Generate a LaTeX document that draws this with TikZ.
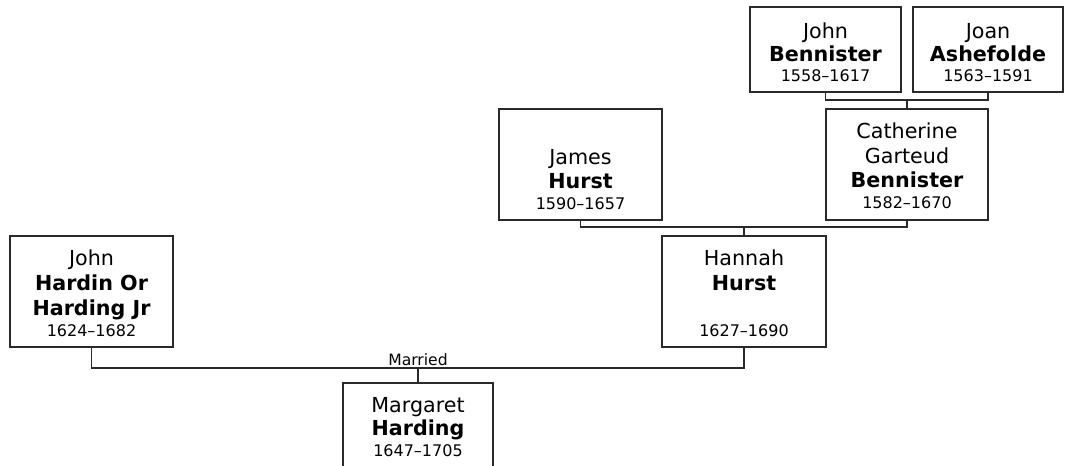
\documentclass[tikz,border=0pt]{standalone}
\usepackage{fontspec}
\setmainfont{DejaVu Sans}
\definecolor{boxline}{HTML}{2A2A2A}
\definecolor{txt}{HTML}{000000}
\tikzset{
  person/.style={draw=boxline, line width=0.9pt, fill=white, rectangle, inner sep=0pt, outer sep=0pt},
  nm/.style={anchor=base, inner sep=0pt, text=txt, font=\fontsize{15.5}{18}\selectfont},
  sn/.style={anchor=base, inner sep=0pt, text=txt, font=\fontsize{15.5}{18}\selectfont\bfseries},
  yr/.style={anchor=base, inner sep=0pt, text=txt, font=\fontsize{12}{14}\selectfont},
  lbl/.style={anchor=base, inner sep=0pt, text=txt, font=\fontsize{11.7}{14}\selectfont},
  link/.style={draw=boxline, line width=0.9pt}
}
\begin{document}
\begin{tikzpicture}[x=0.75pt, y=-0.75pt]
\useasboundingbox (0,0) rectangle (1066,466);
\clip (0,0) rectangle (1066,466);
% boxes
\node[person, minimum width=113.25pt, minimum height=63.75pt] (johnb) at (825.5,49.5) {};
\node[person, minimum width=112.5pt, minimum height=63.75pt] (joan) at (988,49.5) {};
\node[person, minimum width=122.25pt, minimum height=83.25pt] (james) at (580.5,164.5) {};
\node[person, minimum width=121.5pt, minimum height=83.25pt] (cath) at (907,164.5) {};
\node[person, minimum width=122.25pt, minimum height=83.25pt] (hardin) at (91.5,291.5) {};
\node[person, minimum width=123pt, minimum height=83.25pt] (hannah) at (744,291.5) {};
\node[person, minimum width=112.5pt, minimum height=83.25pt] (marg) at (418,438.5) {};
% texts
\node[nm] (johnb1) at (825.5,39) {John};
\node[sn] (johnb2) at (825.5,62) {Bennister};
\node[yr] (johnb3) at (825.5,82) {1558–1617};
\node[nm] (joan1) at (988,39) {Joan};
\node[sn] (joan2) at (988,62) {Ashefolde};
\node[yr] (joan3) at (988,82) {1563–1591};
\node[nm] (james1) at (580.5,165) {James};
\node[sn] (james2) at (580.5,189) {Hurst};
\node[yr] (james3) at (580.5,210) {1590–1657};
\node[nm] (cath1) at (907,139) {Catherine};
\node[nm] (cath2) at (907,164) {Garteud};
\node[sn] (cath3) at (907,188) {Bennister};
\node[yr] (cath4) at (907,209) {1582–1670};
\node[nm] (hardin1) at (91.5,266) {John};
\node[sn] (hardin2) at (91.5,291) {Hardin Or};
\node[sn] (hardin3) at (91.5,315.5) {Harding Jr};
\node[yr] (hardin4) at (91.5,336) {1624–1682};
\node[nm] (hannah1) at (744,266) {Hannah};
\node[sn] (hannah2) at (744,291) {Hurst};
\node[yr] (hannah3) at (744,336) {1627–1690};
\node[nm] (marg1) at (418,412) {Margaret};
\node[sn] (marg2) at (418,435) {Harding};
\node[yr] (marg3) at (418,456) {1647–1705};
% connectors
\coordinate (bennjoin) at (907,100);
\coordinate (hurstjoin) at (744,227);
\coordinate (hardjoin) at (418,368);
\draw[link] (johnb.south) |- (bennjoin) -| (joan.south);
\draw[link] (bennjoin) -- (cath.north);
\draw[link] (james.south) |- (hurstjoin) -| (cath.south);
\draw[link] (hurstjoin) -- (hannah.north);
\draw[link] (hardin.south) |- (hardjoin) -| (hannah.south);
\draw[link] (hardjoin) -- (marg.north);
\node[lbl] (married) at (418,365) {Married};
\end{tikzpicture}
\end{document}
